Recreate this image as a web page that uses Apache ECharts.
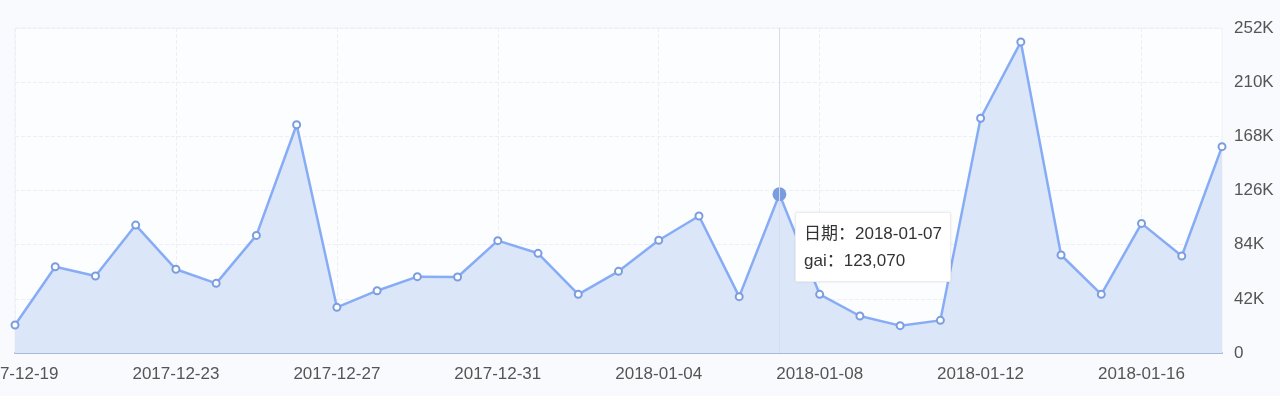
<!DOCTYPE html>
<html>
<head>
<meta charset="utf-8">
<script src="https://cdn.jsdelivr.net/npm/echarts@6/dist/echarts.min.js"></script>
<style>
html,body{margin:0;padding:0;background:#f9fafd;}
#c{width:1280px;height:396px;}
</style>
</head>
<body>
<div id="c"></div>
<script>
const dates = [
  '2017-12-19','2017-12-20','2017-12-21','2017-12-22','2017-12-23','2017-12-24','2017-12-25','2017-12-26',
  '2017-12-27','2017-12-28','2017-12-29','2017-12-30','2017-12-31','2018-01-01','2018-01-02','2018-01-03',
  '2018-01-04','2018-01-05','2018-01-06','2018-01-07','2018-01-08','2018-01-09','2018-01-10','2018-01-11',
  '2018-01-12','2018-01-13','2018-01-14','2018-01-15','2018-01-16','2018-01-17','2018-01-18'
];
const gai = [
  21700, 66900, 59700, 99200, 64900, 54000, 91200, 177000,
  35400, 48300, 59200, 58900, 87100, 77300, 45500, 63300,
  87400, 106200, 43700, 123070, 45500, 28700, 21200, 25300,
  182000, 241200, 76000, 45500, 100500, 75200, 160000
];
const yTicks = [0, 42000, 84000, 126000, 168000, 210000, 252000];
const seriesName = 'gai';
const highlightIndex = 19;

const font = 'Arial, "Liberation Sans", "Noto Sans CJK SC", sans-serif';
const chart = echarts.init(document.getElementById('c'));
chart.setOption({
  backgroundColor: '#f9fafd',
  animation: false,
  textStyle: {fontFamily: font},
  grid: {left: 15, right: 58, top: 28, bottom: 43, containLabel: false, outerBoundsMode: 'none',
    show: true, backgroundColor: '#fcfdff', borderColor: '#eef1f6', borderWidth: 1},
  tooltip: {
    trigger: 'axis',
    alwaysShowContent: true,
    position: [795, 212],
    backgroundColor: '#ffffff',
    borderColor: '#ececec',
    borderWidth: 1,
    padding: [7, 8, 7, 8],
    extraCssText: 'box-shadow:0 0 3px rgba(0,0,0,0.08);border-radius:2px;',
    textStyle: {fontFamily: font},
    axisPointer: {type: 'line', lineStyle: {color: '#d6ddea', width: 1, type: 'solid'}},
    formatter: function (params) {
      const p = params[0];
      return '<div style="font-size:17px;line-height:27px;color:#333;font-family:' + font.replace(/"/g, "'") + '">' +
        '日期：' + p.axisValue + '<br>' + p.seriesName + '：' + p.value.toLocaleString('en-US') + '</div>';
    }
  },
  xAxis: {
    type: 'category',
    data: dates,
    boundaryGap: false,
    axisLine: {lineStyle: {color: '#a8b9df', width: 2}},
    axisTick: {show: false},
    axisLabel: {interval: 3, color: '#555', fontSize: 17, margin: 13, fontFamily: font},
    splitLine: {show: true, interval: 3, lineStyle: {color: '#eceff5', type: 'dashed'}}
  },
  yAxis: {
    type: 'value',
    position: 'right',
    min: yTicks[0], max: yTicks[yTicks.length - 1], interval: 42000,
    axisLine: {show: false},
    axisTick: {show: false},
    axisLabel: {color: '#555', fontSize: 17, margin: 12, fontFamily: font,
      formatter: v => v === 0 ? '0' : (v / 1000) + 'K'},
    splitLine: {lineStyle: {color: '#eceff5', type: 'dashed'}}
  },
  series: [{
    name: seriesName,
    type: 'line',
    data: gai,
    symbol: 'emptyCircle',
    symbolSize: 7,
    lineStyle: {color: '#7b9de0', width: 2.5},
    itemStyle: {color: '#7b9de0', borderWidth: 2},
    areaStyle: {color: '#dbe6f9', opacity: 1},
    emphasis: {scale: 1.7, areaStyle: {color: '#dbe6f9', opacity: 1}, itemStyle: {color: '#7b9de0', borderColor: '#7b9de0'}}
  }]
});
setTimeout(function () {
  chart.dispatchAction({type: 'showTip', seriesIndex: 0, dataIndex: highlightIndex});
}, 50);
</script>
</body>
</html>
